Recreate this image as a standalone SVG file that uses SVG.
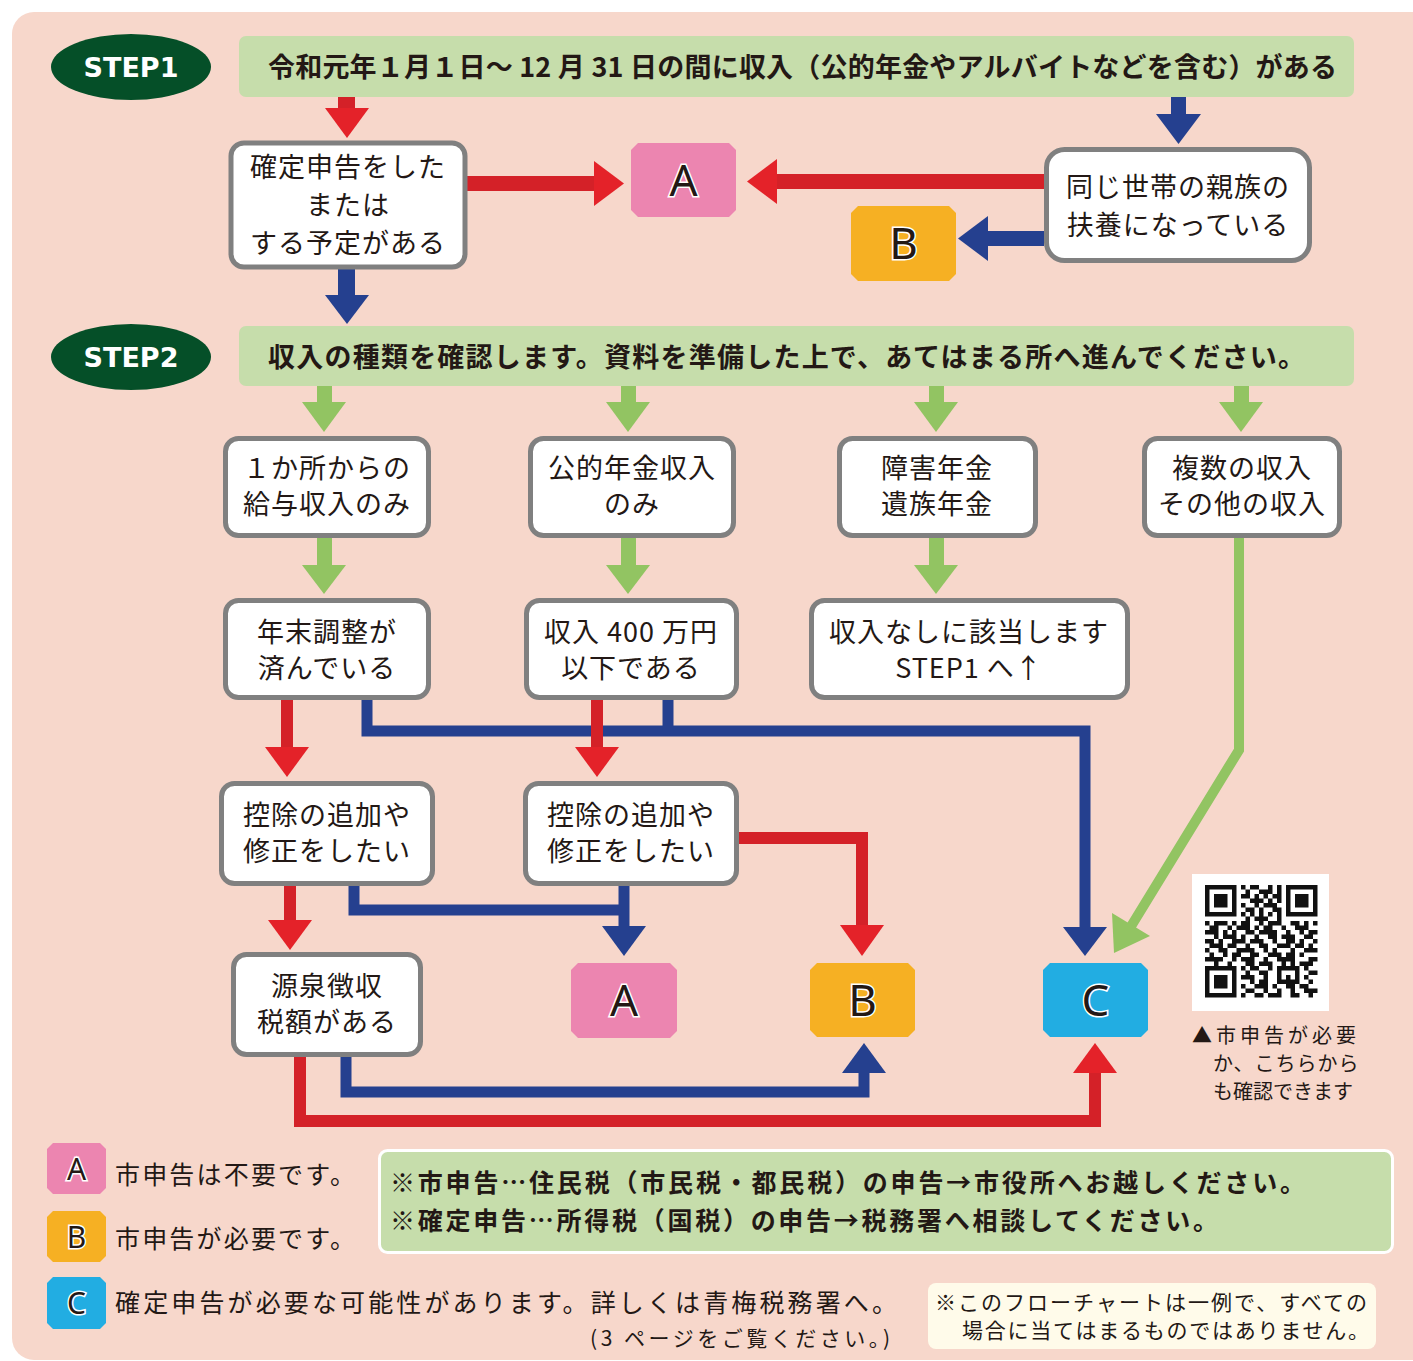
<svg xmlns="http://www.w3.org/2000/svg" width="1413" height="1361" viewBox="0 0 1413 1361">
<defs>
<style>
.jp{font-family:"Noto Sans CJK JP","Noto Sans",sans-serif;fill:#231815}
.box{fill:#fff;stroke:#808080;stroke-width:5}
.bt{font-size:27px;text-anchor:middle;letter-spacing:1px}
.ban{fill:#C6DDAB}
.bant{font-size:27px;font-weight:700}
.step{fill:#054F28}
.stept{font-family:"DejaVu Sans",sans-serif;font-weight:700;font-size:27px;fill:#fff;text-anchor:middle}
.lt{font-family:"Noto Sans","DejaVu Sans",sans-serif;font-size:44px;fill:#231815;stroke:#fff;stroke-width:3;paint-order:stroke;text-anchor:middle}
.ltS{font-size:30px}
.pa{fill:#EC85B0}.pb{fill:#F6B023}.pc{fill:#22ADE2}
.rs{fill:none;stroke:#D42128;stroke-width:12}
.rh{fill:#E42229}
.bs{fill:none;stroke:#25408F;stroke-width:11}
.bh{fill:#25408F}
.gs{fill:none;stroke:#92C462;stroke-width:10}
.gh{fill:#92C462}
.leg{font-size:25px}
</style>
</defs>
<rect x="0" y="0" width="1413" height="1361" fill="#fff"/>
<rect x="12" y="12" width="1430" height="1348" rx="22" fill="#F7D7CB"/>

<g id="step1">
<ellipse class="step" cx="131" cy="67" rx="80" ry="33"/>
<text class="stept" x="131" y="77">STEP1</text>
</g>
<g id="step1-banner">
<rect class="ban" x="239" y="36" width="1115" height="61" rx="7"/>
<text class="jp bant" x="268" y="77" textLength="1069" lengthAdjust="spacing">令和元年１月１日～ 12 月 31 日の間に収入（公的年金やアルバイトなどを含む）がある</text>
</g>
<g id="step2">
<ellipse class="step" cx="131" cy="357" rx="80" ry="33"/>
<text class="stept" x="131" y="367">STEP2</text>
</g>
<g id="step2-banner">
<rect class="ban" x="239" y="326" width="1115" height="60" rx="7"/>
<text class="jp bant" x="268" y="367" textLength="1037" lengthAdjust="spacing">収入の種類を確認します。資料を準備した上で、あてはまる所へ進んでください。</text>
</g>

<g id="connectors">
<rect x="338" y="97" width="17" height="12" fill="#D42128"/>
<polygon class="rh" points="325,108 369,108 347,138"/>
<rect x="467" y="176" width="128" height="15" fill="#D42128"/>
<polygon class="rh" points="594,161 624,183.5 594,206"/>
<rect x="777" y="174" width="267" height="15" fill="#D42128"/>
<polygon class="rh" points="777,159 747,181.5 777,204"/>
<rect x="1171" y="97" width="15" height="18" class="bh"/>
<polygon class="bh" points="1156,114 1201,114 1178.5,144"/>
<rect x="987" y="231" width="57" height="15" class="bh"/>
<polygon class="bh" points="988,216 958,238.5 988,261"/>
<rect x="338" y="269" width="17" height="27" class="bh"/>
<polygon class="bh" points="325,295 369,295 347,324"/>
<rect x="317" y="386" width="15" height="17" class="gh"/>
<polygon class="gh" points="302,402 346,402 324,432"/>
<rect x="621" y="386" width="15" height="17" class="gh"/>
<polygon class="gh" points="606,402 650,402 628,432"/>
<rect x="929" y="386" width="15" height="17" class="gh"/>
<polygon class="gh" points="914,402 958,402 936,432"/>
<rect x="1234" y="386" width="15" height="17" class="gh"/>
<polygon class="gh" points="1219,402 1263,402 1241,432"/>
<rect x="317" y="538" width="15" height="28" class="gh"/>
<polygon class="gh" points="302,565 346,565 324,594"/>
<rect x="621" y="538" width="15" height="28" class="gh"/>
<polygon class="gh" points="606,565 650,565 628,594"/>
<rect x="929" y="538" width="15" height="28" class="gh"/>
<polygon class="gh" points="914,565 958,565 936,594"/>
<polyline class="gs" points="1239,538 1239,750 1130,928"/>
<polygon class="gh" points="1114,953 1112,913 1150,936"/>
<polyline class="bs" points="367,700 367,731 1085,731 1085,928"/>
<polygon class="bh" points="1063,927 1107,927 1085,956"/>
<polyline class="bs" points="668,700 668,731"/>
<polyline class="bs" points="354,886 354,910 624,910"/>
<polyline class="bs" points="624,886 624,928"/>
<polygon class="bh" points="602,926 646,926 624,956"/>
<polyline class="bs" points="346,1057 346,1092 864,1092 864,1072"/>
<polygon class="bh" points="842,1073 886,1073 864,1043"/>
<polyline class="rs" points="287,700 287,748"/>
<polygon class="rh" points="265,747 309,747 287,777"/>
<polyline class="rs" points="597,700 597,748"/>
<polygon class="rh" points="575,747 619,747 597,777"/>
<polyline class="rs" points="290,886 290,921"/>
<polygon class="rh" points="268,920 312,920 290,950"/>
<polyline class="rs" points="738,838 862,838 862,926"/>
<polygon class="rh" points="840,925 884,925 862,956"/>
<polyline class="rs" points="300,1057 300,1121 1095,1121 1095,1072"/>
<polygon class="rh" points="1073,1073 1117,1073 1095,1043"/>
</g>

<g id="n-kakutei">
<rect class="box" x="231" y="143" width="234" height="124" rx="13"/>
<text class="jp bt"><tspan x="348" y="177">確定申告をした</tspan><tspan x="348" y="215">または</tspan><tspan x="348" y="253">する予定がある</tspan></text>
</g>
<g id="n-fuyou">
<rect class="box" x="1046.5" y="149.5" width="263" height="111" rx="18"/>
<text class="jp bt"><tspan x="1178" y="197">同じ世帯の親族の</tspan><tspan x="1178" y="235">扶養になっている</tspan></text>
</g>
<g id="n-A1">
<polygon class="pa" points="638,143 729,143 736,150 736,210 729,217 638,217 631,210 631,150"/>
<text class="lt" x="683.5" y="196">A</text>
</g>
<g id="n-B1">
<polygon class="pb" points="858,206 949,206 956,213 956,274 949,281 858,281 851,274 851,213"/>
<text class="lt" x="903.5" y="259">B</text>
</g>

<g id="n-kyuyo">
<rect class="box" x="225.5" y="438.5" width="203" height="97" rx="13"/>
<text class="jp bt"><tspan x="327" y="478">１か所からの</tspan><tspan x="327" y="514">給与収入のみ</tspan></text>
</g>
<g id="n-nenkin">
<rect class="box" x="530.5" y="438.5" width="203" height="97" rx="13"/>
<text class="jp bt"><tspan x="632" y="478">公的年金収入</tspan><tspan x="632" y="514">のみ</tspan></text>
</g>
<g id="n-shogai">
<rect class="box" x="839.5" y="438.5" width="196" height="97" rx="13"/>
<text class="jp bt"><tspan x="937" y="478">障害年金</tspan><tspan x="937" y="514">遺族年金</tspan></text>
</g>
<g id="n-fukusu">
<rect class="box" x="1144.5" y="438.5" width="195" height="97" rx="13"/>
<text class="jp bt"><tspan x="1242" y="478">複数の収入</tspan><tspan x="1242" y="514">その他の収入</tspan></text>
</g>

<g id="n-nenmatsu">
<rect class="box" x="225.5" y="600.5" width="203" height="97" rx="13"/>
<text class="jp bt"><tspan x="327" y="642">年末調整が</tspan><tspan x="327" y="678">済んでいる</tspan></text>
</g>
<g id="n-400">
<rect class="box" x="526.5" y="600.5" width="210" height="97" rx="13"/>
<text class="jp bt"><tspan x="631" y="642">収入 400 万円</tspan><tspan x="631" y="678">以下である</tspan></text>
</g>
<g id="n-nashi">
<rect class="box" x="811.5" y="600.5" width="316" height="97" rx="13"/>
<text class="jp bt"><tspan x="969" y="642">収入なしに該当します</tspan><tspan x="969" y="678">STEP1 へ↑</tspan></text>
</g>

<g id="n-kojo1">
<rect class="box" x="221.5" y="783.5" width="211" height="100" rx="13"/>
<text class="jp bt"><tspan x="327" y="825">控除の追加や</tspan><tspan x="327" y="861">修正をしたい</tspan></text>
</g>
<g id="n-kojo2">
<rect class="box" x="525.5" y="783.5" width="211" height="100" rx="13"/>
<text class="jp bt"><tspan x="631" y="825">控除の追加や</tspan><tspan x="631" y="861">修正をしたい</tspan></text>
</g>

<g id="n-gensen">
<rect class="box" x="233.5" y="954.5" width="187" height="100" rx="13"/>
<text class="jp bt"><tspan x="327" y="996">源泉徴収</tspan><tspan x="327" y="1032">税額がある</tspan></text>
</g>
<g id="n-A2">
<polygon class="pa" points="578,963 670,963 677,970 677,1031 670,1038 578,1038 571,1031 571,970"/>
<text class="lt" x="624" y="1016">A</text>
</g>
<g id="n-B2">
<polygon class="pb" points="817,963 908,963 915,970 915,1030 908,1037 817,1037 810,1030 810,970"/>
<text class="lt" x="862.5" y="1016">B</text>
</g>
<g id="n-C">
<polygon class="pc" points="1050,963 1141,963 1148,970 1148,1030 1141,1037 1050,1037 1043,1030 1043,970"/>
<text class="lt" x="1095.5" y="1016">C</text>
</g>

<g id="qr">
<rect x="1192" y="874" width="137" height="137" fill="#fff"/>
<g transform="translate(1205,885) scale(4.5)" fill="#111">
<path fill-rule="evenodd" d="M0 0h7v7h-7zM1 1h5v5h-5zM18 0h7v7h-7zM19 1h5v5h-5zM0 18h7v7h-7zM1 19h5v5h-5z"/>
<path d="M2 2h3v3h-3zM20 2h3v3h-3zM2 20h3v3h-3z"/>
<path d="M8 0h1v1h-1zM10 0h2v1h-2zM14 0h1v1h-1zM16 0h1v1h-1zM9 1h1v1h-1zM12 1h3v1h-3zM16 1h1v1h-1zM8 2h2v1h-2zM11 2h1v1h-1zM13 2h1v1h-1zM15 2h2v1h-2zM10 3h3v1h-3zM14 3h1v1h-1zM16 3h1v1h-1zM8 4h1v1h-1zM11 4h1v1h-1zM13 4h3v1h-3zM9 5h2v1h-2zM12 5h1v1h-1zM15 5h2v1h-2zM8 6h1v1h-1zM10 6h1v1h-1zM12 6h1v1h-1zM14 6h1v1h-1zM16 6h1v1h-1zM9 7h1v1h-1zM11 7h3v1h-3zM16 7h1v1h-1z"/>
<path d="M0 8h1v1h-1zM2 8h3v1h-3zM6 8h1v1h-1zM8 8h2v1h-2zM12 8h1v1h-1zM14 8h3v1h-3zM19 8h2v1h-2zM22 8h1v1h-1zM24 8h1v1h-1zM1 9h2v1h-2zM5 9h1v1h-1zM7 9h3v1h-3zM11 9h1v1h-1zM13 9h2v1h-2zM17 9h1v1h-1zM20 9h3v1h-3zM0 10h3v1h-3zM4 10h1v1h-1zM6 10h1v1h-1zM9 10h2v1h-2zM12 10h4v1h-4zM18 10h1v1h-1zM21 10h1v1h-1zM23 10h2v1h-2zM2 11h1v1h-1zM4 11h3v1h-3zM8 11h1v1h-1zM11 11h1v1h-1zM14 11h2v1h-2zM17 11h3v1h-3zM22 11h2v1h-2zM0 12h2v1h-2zM3 12h1v1h-1zM6 12h3v1h-3zM10 12h3v1h-3zM15 12h1v1h-1zM18 12h2v1h-2zM21 12h1v1h-1zM24 12h1v1h-1zM1 13h3v1h-3zM5 13h2v1h-2zM9 13h1v1h-1zM12 13h2v1h-2zM16 13h3v1h-3zM20 13h2v1h-2zM23 13h1v1h-1zM0 14h1v1h-1zM3 14h2v1h-2zM7 14h4v1h-4zM13 14h1v1h-1zM15 14h1v1h-1zM19 14h1v1h-1zM22 14h3v1h-3zM1 15h1v1h-1zM4 15h1v1h-1zM6 15h2v1h-2zM10 15h2v1h-2zM14 15h3v1h-3zM18 15h2v1h-2zM21 15h1v1h-1zM0 16h4v1h-4zM6 16h1v1h-1zM8 16h3v1h-3zM13 16h1v1h-1zM16 16h4v1h-4zM23 16h2v1h-2zM2 17h1v1h-1zM5 17h1v1h-1zM9 17h2v1h-2zM12 17h3v1h-3zM17 17h1v1h-1zM19 17h1v1h-1zM21 17h3v1h-3z"/>
<path d="M8 18h1v1h-1zM10 18h2v1h-2zM14 18h1v1h-1zM16 18h5v1h-5zM22 18h1v1h-1zM9 19h1v1h-1zM12 19h2v1h-2zM16 19h1v1h-1zM20 19h1v1h-1zM23 19h2v1h-2zM8 20h3v1h-3zM13 20h1v1h-1zM16 20h1v1h-1zM18 20h1v1h-1zM20 20h1v1h-1zM22 20h1v1h-1zM10 21h1v1h-1zM12 21h2v1h-2zM16 21h5v1h-5zM23 21h1v1h-1zM8 22h1v1h-1zM11 22h3v1h-3zM15 22h1v1h-1zM18 22h2v1h-2zM21 22h2v1h-2zM9 23h2v1h-2zM13 23h1v1h-1zM16 23h1v1h-1zM19 23h1v1h-1zM22 23h3v1h-3zM8 24h1v1h-1zM11 24h2v1h-2zM14 24h3v1h-3zM19 24h2v1h-2zM23 24h1v1h-1z"/>
</g>
<text class="jp" font-size="20"><tspan x="1192" y="1043" letter-spacing="4">▲市申告が必要</tspan><tspan x="1213" y="1071" letter-spacing="1">か、こちらから</tspan><tspan x="1213" y="1099">も確認できます</tspan></text>
</g>

<g id="legend">
<polygon class="pa" points="53,1143 100,1143 106,1149 106,1188 100,1194 53,1194 47,1188 47,1149"/>
<text class="lt ltS" x="76.5" y="1180">A</text>
<text class="jp leg" x="115" y="1184" textLength="240" lengthAdjust="spacing">市申告は不要です。</text>
<polygon class="pb" points="53,1211 100,1211 106,1217 106,1256 100,1262 53,1262 47,1256 47,1217"/>
<text class="lt ltS" x="76.5" y="1248">B</text>
<text class="jp leg" x="115" y="1248" textLength="240" lengthAdjust="spacing">市申告が必要です。</text>
<polygon class="pc" points="53,1277 100,1277 106,1283 106,1323 100,1329 53,1329 47,1323 47,1283"/>
<text class="lt ltS" x="76.5" y="1314">C</text>
<text class="jp leg" x="115" y="1312" textLength="782" lengthAdjust="spacing">確定申告が必要な可能性があります。詳しくは青梅税務署へ。</text>
<text class="jp" x="590" y="1346" font-size="21" textLength="300" lengthAdjust="spacing">(3 ページをご覧ください。)</text>
</g>

<g id="note">
<rect x="379.5" y="1150.5" width="1013" height="102" rx="8" fill="#C6DDAB" stroke="#fff" stroke-width="3"/>
<text class="jp" font-size="25" font-weight="700"><tspan x="390" y="1192" textLength="915" lengthAdjust="spacing">※市申告…住民税（市民税・都民税）の申告→市役所へお越しください。</tspan><tspan x="390" y="1230" textLength="828" lengthAdjust="spacing">※確定申告…所得税（国税）の申告→税務署へ相談してください。</tspan></text>
</g>

<g id="disclaimer">
<rect x="928" y="1283" width="448" height="66" rx="8" fill="#FFFBEA"/>
<text class="jp" font-size="21"><tspan x="935" y="1310" textLength="432" lengthAdjust="spacing">※このフローチャートは一例で、すべての</tspan><tspan x="962" y="1338" textLength="407" lengthAdjust="spacing">場合に当てはまるものではありません。</tspan></text>
</g>
</svg>
